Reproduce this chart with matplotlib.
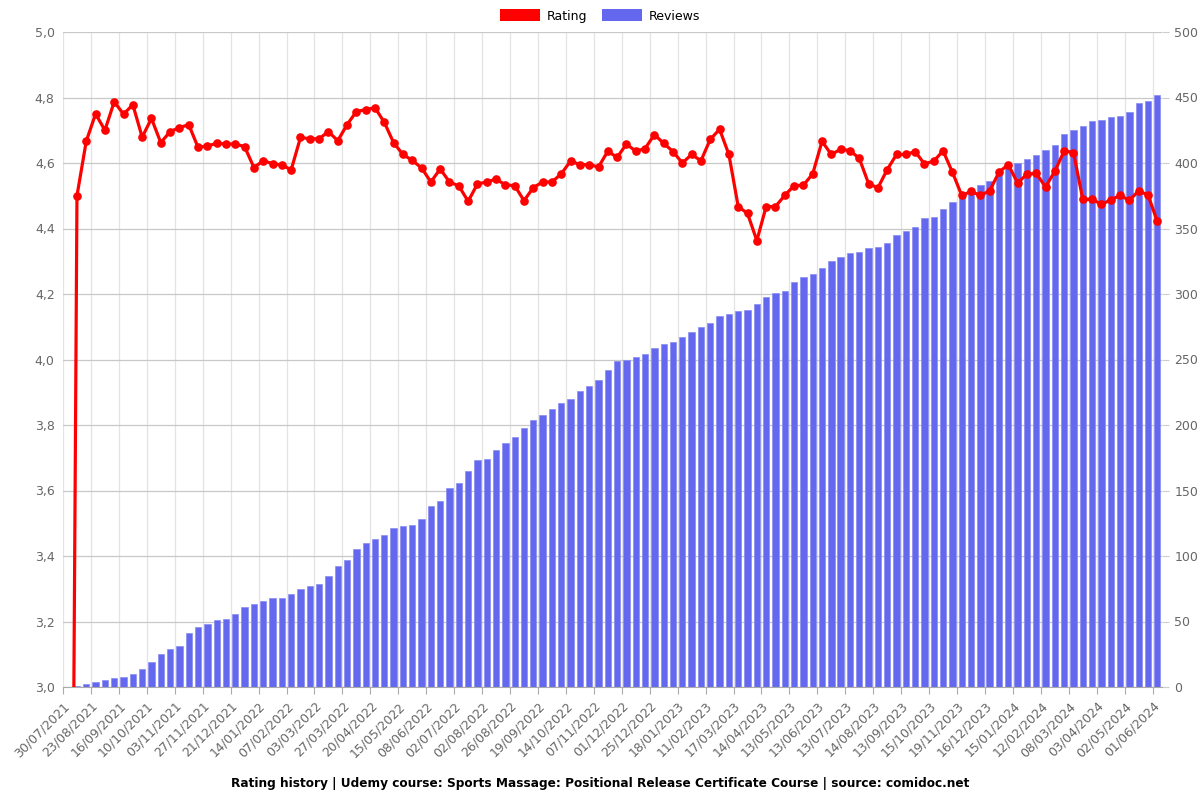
import numpy as np
import matplotlib
matplotlib.use("Agg")
import matplotlib.pyplot as plt
from matplotlib.patches import Patch

TITLE = "Rating history | Udemy course: Sports Massage: Positional Release Certificate Course | source: comidoc.net"

TICK_LABELS = ["30/07/2021", "23/08/2021", "16/09/2021", "10/10/2021", "03/11/2021",
               "27/11/2021", "21/12/2021", "14/01/2022", "07/02/2022", "03/03/2022",
               "27/03/2022", "20/04/2022", "15/05/2022", "08/06/2022", "02/07/2022",
               "02/08/2022", "26/08/2022", "19/09/2022", "14/10/2022", "07/11/2022",
               "01/12/2022", "25/12/2022", "18/01/2023", "11/02/2023", "17/03/2023",
               "14/04/2023", "13/05/2023", "13/06/2023", "13/07/2023", "14/08/2023",
               "13/09/2023", "15/10/2023", "19/11/2023", "16/12/2023", "15/01/2024",
               "12/02/2024", "08/03/2024", "03/04/2024", "02/05/2024", "01/06/2024"]

ratings = [0, 4.50, 4.667, 4.75, 4.70, 4.787, 4.749, 4.778, 4.679, 4.736,
           4.662, 4.696, 4.708, 4.717, 4.648, 4.652, 4.66, 4.658, 4.658, 4.65,
           4.586, 4.607, 4.598, 4.594, 4.579, 4.678, 4.674, 4.674, 4.696, 4.668,
           4.717, 4.757, 4.763, 4.769, 4.724, 4.662, 4.626, 4.608, 4.585, 4.542,
           4.582, 4.542, 4.530, 4.483, 4.536, 4.542, 4.551, 4.533, 4.531, 4.485,
           4.525, 4.542, 4.542, 4.567, 4.606, 4.595, 4.595, 4.588, 4.636, 4.617,
           4.658, 4.636, 4.644, 4.687, 4.66, 4.635, 4.60, 4.626, 4.607, 4.672,
           4.703, 4.626, 4.467, 4.446, 4.363, 4.467, 4.467, 4.501, 4.531, 4.532,
           4.567, 4.666, 4.626, 4.642, 4.638, 4.614, 4.537, 4.524, 4.580, 4.626,
           4.626, 4.635, 4.597, 4.606, 4.637, 4.572, 4.501, 4.513, 4.501, 4.515,
           4.572, 4.595, 4.539, 4.566, 4.568, 4.527, 4.575, 4.637, 4.632, 4.489,
           4.489, 4.474, 4.487, 4.501, 4.486, 4.515, 4.502, 4.422]

reviews = [0, 1, 2, 4, 5, 7, 8, 10, 14, 19,
           25, 29, 31, 41, 46, 48, 51, 52, 56, 61,
           63, 66, 68, 68, 71, 75, 77, 79, 85, 92,
           97, 105, 110, 113, 116, 121, 123, 124, 128, 138,
           142, 152, 156, 165, 173, 174, 181, 186, 191, 198,
           204, 208, 212, 217, 220, 226, 230, 234, 242, 249,
           250, 252, 254, 259, 262, 263, 267, 271, 275, 278,
           283, 285, 287, 288, 292, 298, 301, 302, 309, 313,
           315, 320, 325, 328, 331, 332, 335, 336, 339, 345,
           348, 351, 358, 359, 365, 370, 374, 378, 383, 386,
           392, 396, 400, 403, 406, 410, 414, 422, 425, 428,
           432, 433, 435, 436, 439, 446, 447, 452]

x = np.arange(len(ratings))

fig = plt.figure(figsize=(12, 8), dpi=100)
ax2 = fig.add_axes([0.0525, 0.14125, 0.9158, 0.81875])
ax1 = ax2.twinx()
ax1.yaxis.tick_left()
ax2.yaxis.tick_right()
ax1.set_zorder(ax2.get_zorder() + 1)
ax1.patch.set_visible(False)

ax2.bar(x, reviews, width=0.68, color="#6468ee", edgecolor="#8a8df2", linewidth=0.5, zorder=2)
ax1.plot(x, ratings, color="#ff0000", linewidth=2.3, marker="o", markersize=5.2, zorder=3)

ax2.set_ylim(0, 500)
ax2.set_yticks(np.arange(0, 501, 50))
ax1.set_ylim(3.0, 5.0)
ax1.set_yticks(np.arange(3.0, 5.01, 0.2))
ax1.set_yticklabels(["{:.1f}".format(v).replace(".", ",") for v in np.arange(3.0, 5.01, 0.2)])
ax2.set_xlim(-0.5, len(x) - 0.5)

ticks = np.arange(0, len(x), 3) - 0.5
ax2.set_xticks(ticks)
ax2.set_xticklabels(TICK_LABELS, rotation=45, ha="right", va="top", rotation_mode="anchor")

ax2.set_axisbelow(True)
ax2.grid(axis="y", color="#c8c8c8", linewidth=0.9)
ax2.grid(axis="x", color="#e3e3e3", linewidth=0.9)

for a in (ax1, ax2):
    for s in a.spines.values():
        s.set_visible(False)
ax2.spines["bottom"].set_visible(True)
ax2.spines["bottom"].set_color("#aaaaaa")

ax2.tick_params(axis="x", colors="#aaaaaa", labelcolor="#666666", labelsize=9, length=5, pad=4)
ax2.tick_params(axis="y", colors="#cccccc", labelcolor="#666666", labelsize=9, length=5, pad=4)
ax1.tick_params(axis="y", colors="#cccccc", labelcolor="#666666", labelsize=9, length=0, pad=6)

handles = [Patch(facecolor="#ff0000", label="Rating"), Patch(facecolor="#6468ee", label="Reviews")]
fig.legend(handles=handles, loc="center", bbox_to_anchor=(0.5, 0.98), ncol=2, frameon=False,
           fontsize=9, handlelength=3.2, handleheight=1.1, columnspacing=1.2, handletextpad=0.5)

fig.text(0.5, 0.021, TITLE, ha="center", va="center", fontsize=8.7, fontweight="bold")

fig.savefig("out.png", dpi=100)
